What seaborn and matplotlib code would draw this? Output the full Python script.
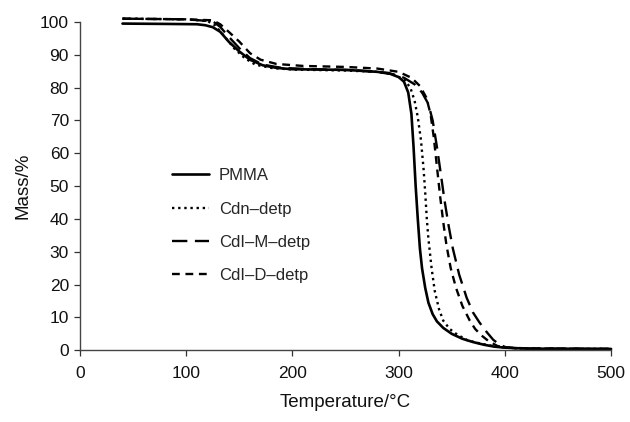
import matplotlib
matplotlib.use("Agg")
import matplotlib.pyplot as plt
import seaborn as sns
import pandas as pd

# ---- data ----
pmma_T = [40, 80, 110, 118, 125, 132, 140, 150, 160, 172, 185, 200, 250, 280, 292, 300, 305, 309,
          312, 314, 316, 318, 320, 322, 325, 328, 332, 336, 342, 350, 360, 370, 380, 390, 400, 420, 500]
pmma_mass = [99.5, 99.4, 99.3, 99.0, 98.4, 97, 94, 91, 88.5, 86.8, 86, 85.6, 85.4, 84.8, 84.2, 83.2,
             81.8, 78.5, 72, 62, 50, 40, 31, 25, 19, 14.5, 11, 8.8, 6.8, 5, 3.5, 2.5, 1.7, 1.1,
             0.8, 0.5, 0.4]

cdn_T = [40, 100, 120, 127, 135, 145, 155, 165, 180, 200, 250, 280, 295, 305, 311, 315, 318, 321,
         323.5, 325, 326.5, 328, 331, 334, 338, 342, 348, 355, 365, 375, 385, 400, 420, 500]
cdn_mass = [101, 100.8, 100.3, 99, 96, 92, 89, 87, 86, 85.5, 85.2, 84.8, 84, 82.5, 80, 76, 71, 64,
            55, 48, 40, 34, 25, 18, 12.5, 9, 6.5, 4.8, 3, 2.2, 1.5, 0.8, 0.5, 0.4]

cdim_T = [40, 100, 125, 132, 140, 150, 160, 172, 190, 220, 260, 290, 305, 315, 322, 328, 332, 336,
          340, 343, 347, 351, 357, 364, 370, 376, 383, 389, 395, 401, 410, 430, 500]
cdim_mass = [101, 100.8, 100.2, 98.5, 95.5, 92, 89, 87, 86, 85.6, 85.3, 84.5, 83, 81, 78.5, 75, 70,
             62, 53, 46, 38, 31, 23, 16, 11.5, 8.5, 5.5, 3.2, 1.7, 0.9, 0.6, 0.5, 0.4]

cdid_T = [40, 100, 125, 132, 140, 150, 160, 170, 185, 210, 250, 280, 300, 312, 320, 326, 330, 333,
          336, 339, 342, 345, 349, 354, 360, 367, 372, 378, 385, 393, 400, 430, 500]
cdid_mass = [101, 100.8, 100.5, 99.3, 97, 94, 90.5, 88.5, 87.2, 86.6, 86.3, 85.8, 84.8, 83, 80.5, 77,
             72, 65, 56, 47, 39, 32, 25, 19, 13.5, 9, 6.5, 4.5, 2.7, 1.3, 0.8, 0.5, 0.4]

series_names = ["PMMA", "Cdn\u2013detp", "CdI\u2013M\u2013detp", "CdI\u2013D\u2013detp"]
x_ticks = [0, 100, 200, 300, 400, 500]
y_ticks = [0, 10, 20, 30, 40, 50, 60, 70, 80, 90, 100]

frames = []
for name, T, m in zip(series_names,
                      [pmma_T, cdn_T, cdim_T, cdid_T],
                      [pmma_mass, cdn_mass, cdim_mass, cdid_mass]):
    frames.append(pd.DataFrame({"T": T, "mass": m, "series": name}))
df = pd.concat(frames, ignore_index=True)

sns.set_theme(style="ticks")
plt.rcParams["font.family"] = ["Liberation Sans", "DejaVu Sans"]

fig = plt.figure(figsize=(6.3, 4.22), dpi=100)
ax = fig.add_axes([0.127, 0.17, 0.843, 0.778])

styles = {
    "PMMA": dict(linestyle="-", linewidth=1.9),
    "Cdn\u2013detp": dict(linestyle=(0, (1, 1.6)), linewidth=1.7),
    "CdI\u2013M\u2013detp": dict(linestyle=(0, (6.5, 3.2)), linewidth=1.7),
    "CdI\u2013D\u2013detp": dict(linestyle=(0, (3.3, 2.4)), linewidth=1.7),
}
for name in series_names:
    sub = df[df["series"] == name]
    sns.lineplot(data=sub, x="T", y="mass", ax=ax, color="black", label=name,
                 sort=False, estimator=None, clip_on=False, **styles[name])

ax.set_xlim(0, 500)
ax.set_ylim(0, 100)
ax.set_xticks(x_ticks)
ax.set_yticks(y_ticks)
ax.tick_params(axis="both", labelsize=12.5, length=4, width=0.9, color="#333333",
               labelcolor="#111111", direction="out")
ax.tick_params(axis="x", pad=7)
ax.tick_params(axis="y", pad=4)
for s in ["top", "right"]:
    ax.spines[s].set_visible(False)
for s in ["left", "bottom"]:
    ax.spines[s].set_color("#444444")
    ax.spines[s].set_linewidth(1.0)

ax.set_xlabel("Temperature/\u00b0C", fontsize=13.5, color="#111111", labelpad=10)
ax.set_ylabel("Mass/%", fontsize=13.5, color="#111111", labelpad=6)

leg = ax.legend(loc="upper left", bbox_to_anchor=(0.145, 0.6), frameon=False,
                fontsize=12, handlelength=2.2, labelspacing=1.1, handletextpad=0.6)

fig.savefig("out.png", dpi=100)
